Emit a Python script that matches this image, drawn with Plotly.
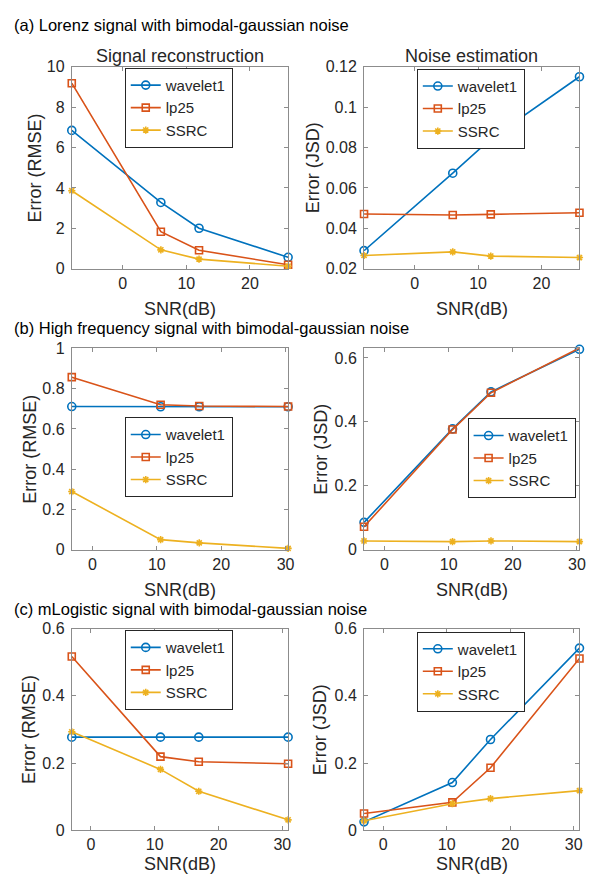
import plotly.graph_objects as go

# ---------------- data ----------------
series_names = ["wavelet1", "lp25", "SSRC"]

snr_a = [-8, 6, 12, 26]
snr_b = [-3.2, 10.6, 16.6, 30.4]
snr_c = [-3, 10.9, 16.9, 30.9]

a_rmse_wavelet1 = [6.85, 3.28, 2.0, 0.56]
a_rmse_lp25 = [9.19, 1.83, 0.91, 0.19]
a_rmse_ssrc = [3.86, 0.93, 0.47, 0.12]

a_jsd_wavelet1 = [0.0289, 0.0673, 0.0843, 0.1151]
a_jsd_lp25 = [0.0471, 0.0466, 0.0469, 0.0477]
a_jsd_ssrc = [0.0265, 0.0283, 0.0262, 0.0255]

b_rmse_wavelet1 = [0.711, 0.710, 0.710, 0.710]
b_rmse_lp25 = [0.857, 0.720, 0.714, 0.711]
b_rmse_ssrc = [0.289, 0.050, 0.034, 0.0065]

b_jsd_wavelet1 = [0.0856, 0.378, 0.494, 0.627]
b_jsd_lp25 = [0.072, 0.376, 0.491, 0.631]
b_jsd_ssrc = [0.0275, 0.0255, 0.0275, 0.0255]

c_rmse_wavelet1 = [0.277, 0.277, 0.277, 0.277]
c_rmse_lp25 = [0.517, 0.219, 0.204, 0.198]
c_rmse_ssrc = [0.293, 0.181, 0.116, 0.031]

c_jsd_wavelet1 = [0.025, 0.142, 0.270, 0.542]
c_jsd_lp25 = [0.050, 0.083, 0.186, 0.511]
c_jsd_ssrc = [0.028, 0.079, 0.094, 0.118]

x_ticks_a = [0, 10, 20]
x_ticks_bc = [0, 10, 20, 30]
y_ticks_a_rmse = [0, 2, 4, 6, 8, 10]
y_ticks_a_jsd = [0.02, 0.04, 0.06, 0.08, 0.1, 0.12]
y_ticks_b_rmse = [0, 0.2, 0.4, 0.6, 0.8, 1]
y_ticks_b_jsd = [0, 0.2, 0.4, 0.6]
y_ticks_c = [0, 0.2, 0.4, 0.6]

row_titles = [
    "(a) Lorenz signal with bimodal-gaussian noise",
    "(b) High frequency signal with bimodal-gaussian noise",
    "(c) mLogistic signal with bimodal-gaussian noise",
]
col_titles = ["Signal reconstruction", "Noise estimation"]
y_labels = ["Error (RMSE)", "Error (JSD)"]
x_label = "SNR(dB)"

# ---------------- style ----------------
W, H = 603, 888
colors = ["#0072BD", "#D95319", "#EDB120"]
symbols = ["circle-open", "square-open", "asterisk-open"]
msizes = [8, 7, 6]
FONT = "Liberation Sans, Arial, Helvetica, sans-serif"
TXT = "#262626"
AXC = "#8c8c8c"


def px_x(p):
    return p / W


def px_y(p):
    return 1 - p / H


cols_px = [(72.5, 291.0), (367.7, 585.3)]
rows_px = [(60.0, 265.7), (347.0, 552.3), (632.7, 838.3)]

panels = [
    (0, 0, snr_a, [a_rmse_wavelet1, a_rmse_lp25, a_rmse_ssrc], y_ticks_a_rmse, [0, 10], x_ticks_a),
    (0, 1, snr_a, [a_jsd_wavelet1, a_jsd_lp25, a_jsd_ssrc], y_ticks_a_jsd, [0.02, 0.12], x_ticks_a),
    (1, 0, snr_b, [b_rmse_wavelet1, b_rmse_lp25, b_rmse_ssrc], y_ticks_b_rmse, [0, 1], x_ticks_bc),
    (1, 1, snr_b, [b_jsd_wavelet1, b_jsd_lp25, b_jsd_ssrc], y_ticks_b_jsd, [0, 0.63], x_ticks_bc),
    (2, 0, snr_c, [c_rmse_wavelet1, c_rmse_lp25, c_rmse_ssrc], y_ticks_c, [0, 0.6], x_ticks_bc),
    (2, 1, snr_c, [c_jsd_wavelet1, c_jsd_lp25, c_jsd_ssrc], y_ticks_c, [0, 0.6], x_ticks_bc),
]

legend_pos = [(126, 61), (421, 62), (126, 417.3), (472.3, 418.3), (126, 634.3), (421, 635.7)]


def fmt(v):
    return "%g" % v


fig = go.Figure()
layout = dict(
    width=W, height=H,
    margin=dict(l=0, r=0, t=0, b=0),
    paper_bgcolor="white", plot_bgcolor="white",
    font=dict(family=FONT, color=TXT, size=16),
    showlegend=True,
)

for i, (r, c, xs, ys_list, yt, yr, xt) in enumerate(panels):
    k = i + 1
    xa = "x" if k == 1 else "x%d" % k
    ya = "y" if k == 1 else "y%d" % k
    lg = "legend" if k == 1 else "legend%d" % k
    for j, ys in enumerate(ys_list):
        fig.add_trace(go.Scatter(
            x=xs, y=ys, mode="lines+markers", name=series_names[j],
            line=dict(color=colors[j], width=1.6),
            marker=dict(symbol=symbols[j], size=msizes[j], color=colors[j],
                        line=dict(width=1.6, color=colors[j])),
            xaxis=xa, yaxis=ya, legend=lg, cliponaxis=False,
        ))
    x0, x1 = cols_px[c]
    y0, y1 = rows_px[r]
    axis_common = dict(
        showgrid=False, zeroline=False, showline=True, linecolor=AXC, linewidth=1,
        ticks="inside", ticklen=4, tickcolor=AXC, tickwidth=1, mirror="ticks",
        tickfont=dict(family=FONT, size=16, color=TXT),
    )
    layout["xaxis" if k == 1 else "xaxis%d" % k] = dict(
        axis_common, domain=[px_x(x0), px_x(x1)], anchor=ya,
        range=[min(xs), max(xs)], tickvals=xt, ticktext=[fmt(v) for v in xt],
        ticklabelstandoff=0,
    )
    layout["yaxis" if k == 1 else "yaxis%d" % k] = dict(
        axis_common, domain=[px_y(y1), px_y(y0)], anchor=xa,
        range=yr, tickvals=yt, ticktext=[fmt(v) for v in yt],
        ticklabelstandoff=3,
    )
    lx, ly = legend_pos[i]
    layout[lg] = dict(
        x=px_x(lx), y=px_y(ly), xanchor="left", yanchor="top",
        bgcolor="white", bordercolor="#262626", borderwidth=1,
        font=dict(family=FONT, size=15, color=TXT),
        tracegroupgap=0, itemclick=False,
    )

fig.update_layout(**layout)

annotations = []
row_title_y = [17, 326, 612.5]
for r in range(3):
    annotations.append(dict(
        text=row_titles[r], x=px_x(12), y=px_y(row_title_y[r]), xref="paper", yref="paper",
        xanchor="left", yanchor="middle", showarrow=False,
        font=dict(family=FONT, size=16.5, color="black"),
    ))
for c in range(2):
    x0, x1 = cols_px[c]
    annotations.append(dict(
        text=col_titles[c], x=px_x((x0 + x1) / 2), y=px_y(49), xref="paper", yref="paper",
        xanchor="center", yanchor="middle", showarrow=False,
        font=dict(family=FONT, size=18, color=TXT),
    ))
xlabel_y = [306.5, 593.3, 873.0]
ylabel_x = [[35, 315.7], [30, 324], [30, 324]]
for r in range(3):
    y0, y1 = rows_px[r]
    for c in range(2):
        x0, x1 = cols_px[c]
        annotations.append(dict(
            text=x_label, x=px_x((x0 + x1) / 2), y=px_y(xlabel_y[r]), xref="paper", yref="paper",
            xanchor="center", yanchor="middle", showarrow=False,
            font=dict(family=FONT, size=18, color=TXT),
        ))
        annotations.append(dict(
            text=y_labels[c], x=px_x(ylabel_x[r][c]), y=px_y((y0 + y1) / 2), xref="paper", yref="paper",
            xanchor="center", yanchor="middle", showarrow=False, textangle=-90,
            font=dict(family=FONT, size=18, color=TXT),
        ))
fig.update_layout(annotations=annotations)

fig.write_html("out.html")
